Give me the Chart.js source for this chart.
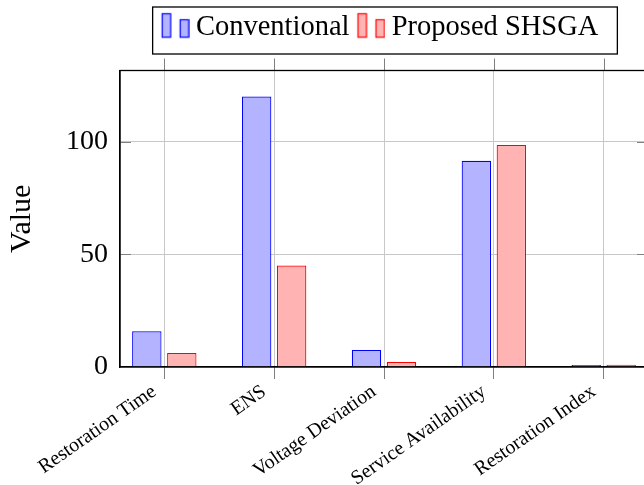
<!DOCTYPE html>
<html>
<head>
<meta charset="utf-8">
<script src="https://cdn.jsdelivr.net/npm/chart.js@4.4.1/dist/chart.umd.min.js"></script>
<style>
  html, body { margin: 0; padding: 0; overflow: hidden; background: #fff; }
  #wrap { width: 660px; height: 485px; }
</style>
</head>
<body>
<div id="wrap"><canvas id="c" width="660" height="485"></canvas></div>
<script>
// Metric categories and the two compared methods
const categories = ['Restoration Time', 'ENS', 'Voltage Deviation', 'Service Availability', 'Restoration Index'];
const conventional = [15.8, 120, 7.5, 91.5, 0.9];
const proposed = [6.2, 45, 2.2, 98.5, 0.95];
const yTicks = [0, 50, 100];
const seriesNames = ['Conventional', 'Proposed SHSGA'];

const SERIF = '"Liberation Serif", "Times New Roman", serif';
const BLUE = 'rgb(0,0,255)', BLUE_FILL = 'rgb(179,179,255)';
const RED = 'rgb(255,0,0)', RED_FILL = 'rgb(255,179,179)';
const GRID = 'rgb(200,200,200)', TICK = 'rgb(128,128,128)';

// Two-bar legend icon (tall + short bar)
function barIcon(fill, stroke) {
  const c = document.createElement('canvas');
  c.width = 30; c.height = 30;
  const g = c.getContext('2d');
  g.fillStyle = fill; g.strokeStyle = stroke; g.lineWidth = 1.2;
  [[2.5, 1.5, 8.5, 23.5], [20.5, 7.5, 8.5, 17.5]].forEach(([x, y, w, h]) => {
    g.fillRect(x, y, w, h); g.strokeRect(x, y, w, h);
  });
  return c;
}
const icons = [barIcon(BLUE_FILL, BLUE), barIcon(RED_FILL, RED)];

// Closed axis frame, mirrored tick marks and the legend frame
const framePlugin = {
  id: 'frame',
  afterLayout(chart) {
    const lg = chart.legend, a = chart.chartArea;
    const h = lg.height;
    lg.left = a.left - 2; lg.right = a.right; lg.width = lg.right - lg.left;
    lg.top = -1; lg.bottom = lg.top + h;
  },
  afterDraw(chart) {
    const { ctx, chartArea: a, scales: { x, y } } = chart;
    const line = (x1, y1, x2, y2) => { ctx.beginPath(); ctx.moveTo(x1, y1); ctx.lineTo(x2, y2); ctx.stroke(); };
    ctx.save();
    ctx.strokeStyle = TICK; ctx.lineWidth = 1;
    categories.forEach((_, i) => {
      const px = Math.round(x.getPixelForValue(i)) + 0.5;
      line(px, a.top - 12, px, a.top);
    });
    yTicks.forEach(v => {
      if (v === 0) return;
      const py = Math.round(y.getPixelForValue(v)) + 0.5;
      line(a.left, py, a.left + 11, py);
      line(a.right - 11, py, a.right, py);
    });
    ctx.strokeStyle = '#000'; ctx.lineWidth = 1.3;
    ctx.strokeRect(a.left, a.top, a.right - a.left, a.bottom - a.top);
    const hb = chart.legend.legendHitBoxes;
    const first = hb[0], last = hb[hb.length - 1];
    const lx = first.left - 15, rx = last.left + last.width + 19;
    ctx.strokeRect(lx, first.top - 6, rx - lx, 47);
    ctx.restore();
  }
};

const toPoints = arr => arr.map((v, i) => ({ x: i, y: v }));

new Chart(document.getElementById('c'), {
  type: 'bar',
  data: {
    datasets: [
      { label: seriesNames[0], data: toPoints(conventional), backgroundColor: BLUE_FILL, borderColor: BLUE, borderWidth: 1.2 },
      { label: seriesNames[1], data: toPoints(proposed), backgroundColor: RED_FILL, borderColor: RED, borderWidth: 1.2 }
    ]
  },
  options: {
    responsive: false,
    animation: false,
    devicePixelRatio: 1,
    categoryPercentage: 0.637,
    barPercentage: 0.84,
    layout: { padding: { top: 18, right: 12, left: 0, bottom: 0 } },
    plugins: {
      tooltip: { enabled: false },
      legend: {
        position: 'top',
        labels: {
          usePointStyle: true,
          pointStyleWidth: 14,
          padding: 14,
          color: '#000',
          font: { family: SERIF, size: 28.5 },
          generateLabels: () => seriesNames.map((n, i) => ({
            text: n, pointStyle: icons[i], fillStyle: 'rgba(0,0,0,0)', strokeStyle: 'rgba(0,0,0,0)',
            lineWidth: 0, hidden: false, datasetIndex: i, fontColor: '#000'
          }))
        }
      }
    },
    scales: {
      x: {
        type: 'linear',
        offset: false,
        min: -0.4033,
        max: 4.4033,
        afterBuildTicks: s => { s.ticks = categories.map((_, i) => ({ value: i })); },
        afterFit: s => { s.height = 118; },
        grid: { offset: false, color: GRID, lineWidth: 1, drawTicks: true, tickLength: 12, tickColor: TICK },
        border: { color: '#000', width: 1.3 },
        ticks: {
          autoSkip: false, minRotation: 35, maxRotation: 35, padding: 1, labelOffset: -10,
          color: '#000', font: { family: SERIF, size: 20 },
          callback: v => categories[v]
        }
      },
      y: {
        min: 0,
        max: 131.5,
        afterBuildTicks: s => { s.ticks = yTicks.map(v => ({ value: v })); },
        afterFit: s => { s.width = 120; },
        grid: { color: c => (c.tick && c.tick.value === 0) ? 'rgba(0,0,0,0)' : GRID, drawTicks: false },
        border: { color: '#000', width: 1.3 },
        ticks: { padding: 12, color: '#000', font: { family: SERIF, size: 28 } },
        title: { display: true, text: 'Value', color: '#000', font: { family: SERIF, size: 30 }, padding: { top: 4, bottom: 0 } }
      }
    }
  },
  plugins: [framePlugin]
});
</script>
</body>
</html>
